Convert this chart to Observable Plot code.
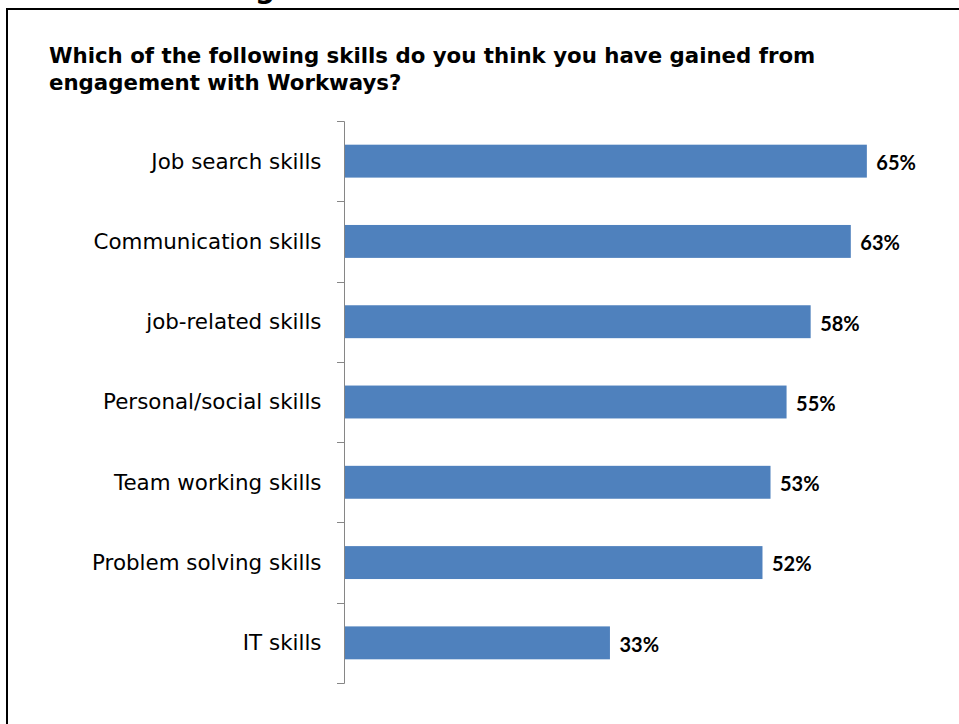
<!DOCTYPE html>
<html><head><meta charset="utf-8">
<script src="https://cdn.jsdelivr.net/npm/d3@7"></script>
<script src="https://cdn.jsdelivr.net/npm/@observablehq/plot@0.6"></script>
<style>
  html, body { margin: 0; padding: 0; background: #fff; overflow: hidden; width: 959px; height: 724px; }
  #page { position: relative; width: 959px; height: 724px; overflow: hidden; }
  #heading { position: absolute; left: 255px; top: -25px; font: bold 28px/28px "DejaVu Sans", sans-serif; color: #000; white-space: nowrap; }
  #frame { position: absolute; left: 6px; top: 8px; width: 2000px; height: 2000px; border: 2px solid #000; box-sizing: border-box; }
  #title { position: absolute; left: 49px; top: 42px; font: bold 21.3px/27px "DejaVu Sans", sans-serif; color: #000; white-space: nowrap; }
  #chart { position: absolute; left: 0; top: 0; }
</style>
</head><body>
<div id="page">
  <div id="heading">g</div>
  <div id="frame"></div>
  <div id="title">Which of the following skills do you think you have gained from<br>engagement with Workways?</div>
  <div id="chart"></div>
</div>
<script>
// Survey answers: share of respondents naming each skill
const skills = [
  "Job search skills",
  "Communication skills",
  "job-related skills",
  "Personal/social skills",
  "Team working skills",
  "Problem solving skills",
  "IT skills"
];
const percents = [65, 63, 58, 55, 53, 52, 33];

const rows = skills.map((skill, i) => ({skill, percent: percents[i]}));

// Category boundary ticks on the left axis, placed between bands
function boundaryTicks(index, scales) {
  const y = scales.y;
  const step = y.step();
  const gap = (step - y.bandwidth()) / 2;
  const x0 = scales.x(0);
  const edges = skills.map(s => y(s) - gap);
  edges.push(y(skills[skills.length - 1]) + y.bandwidth() + gap);
  const g = d3.create("svg:g").attr("stroke", "#868686").attr("stroke-width", 1);
  for (const e of edges) {
    g.append("line")
      .attr("x1", x0 - 8).attr("x2", x0 - 0.5)
      .attr("y1", Math.round(e) + 0.5).attr("y2", Math.round(e) + 0.5);
  }
  g.append("line")
    .attr("x1", x0 - 0.5).attr("x2", x0 - 0.5)
    .attr("y1", Math.round(edges[0]) + 0.5).attr("y2", Math.round(edges[edges.length - 1]) + 0.5);
  return g.node();
}

const chart = Plot.plot({
  width: 959,
  height: 724,
  marginTop: 121,
  marginBottom: 41,
  marginLeft: 345,
  marginRight: 52,
  style: {background: "transparent", color: "#000"},
  x: {domain: [0, 70], axis: null},
  y: {domain: skills, paddingInner: 0.59, paddingOuter: 0.295, round: false, label: null},
  marks: [
    Plot.barX(rows, {x: "percent", y: "skill", fill: "#4f81bd"}),
    boundaryTicks,
    Plot.axisY({tickSize: 0, tickPadding: 24, fontSize: "21.4px", fontFamily: "DejaVu Sans", label: null}),
    Plot.text(rows, {
      x: "percent", y: "skill",
      text: d => d.percent + "%",
      textAnchor: "start", dx: 9, dy: 2,
      fontFamily: "Lato", fontWeight: "bold", fontSize: 20, fill: "#000"
    })
  ]
});
document.getElementById("chart").append(chart);
</script>
</body></html>
